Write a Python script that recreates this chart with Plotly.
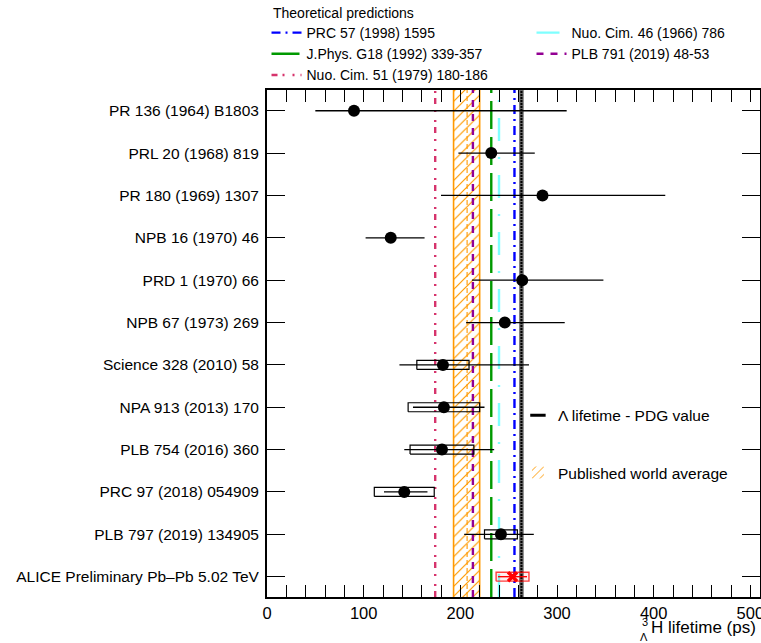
import plotly.graph_objects as go

# Measurements, listed top to bottom
labels = [
    "PR 136 (1964) B1803",
    "PRL 20 (1968) 819",
    "PR 180 (1969) 1307",
    "NPB 16 (1970) 46",
    "PRD 1 (1970) 66",
    "NPB 67 (1973) 269",
    "Science 328 (2010) 58",
    "NPA 913 (2013) 170",
    "PLB 754 (2016) 360",
    "PRC 97 (2018) 054909",
    "PLB 797 (2019) 134905",
    "ALICE Preliminary Pb\u2013Pb 5.02 TeV",
]
lifetime = [90, 232, 285, 128, 264, 246, 182, 183, 181, 142, 242, 254]
stat_up = [220, 45, 127, 35, 84, 62, 89, 42, 54, 24, 34, 15]
stat_dn = [40, 34, 105, 26, 52, 40, 45, 32, 39, 21, 38, 15]
syst = [None, None, None, None, None, None, 27, 37, 33, 31, 17, 17]

# Theoretical predictions
theory_names = [
    "PRC 57 (1998) 1595",
    "Nuo. Cim. 46 (1966) 786",
    "J.Phys. G18 (1992) 339-357",
    "PLB 791 (2019) 48-53",
    "Nuo. Cim. 51 (1979) 180-186",
]
theory_values = [256, 240, 232, 213, 174]
theory_colors = ["#0000ff", "#7fffff", "#009900", "#930093", "#d6336c"]
theory_dash = ["9px,5px,2px,5px", "23px,16px,2px,16px", "28px,8px",
               "7px,7px", "6px,5px,2px,8px,2px,6px"]

# Published world average and the Lambda lifetime
wa_value, wa_up, wa_dn = 207, 13, 14
pdg_lambda = 263.2

FONT = "Liberation Sans, Arial, Helvetica, sans-serif"
ORANGE = "#ff9900"

n = len(labels)
rows = [n - 1 - i for i in range(n)]
is_alice = [i == n - 1 for i in range(n)]

fig = go.Figure()

# World-average band (hatched), drawn on the hidden [0,1] axis
fig.add_trace(go.Bar(
    x=[(wa_value - wa_dn + wa_value + wa_up) / 2], y=[1], base=[0],
    width=[wa_up + wa_dn], yaxis="y",
    marker=dict(color="rgba(0,0,0,0)", line=dict(width=0),
                pattern=dict(shape="/", fgcolor=ORANGE, fgopacity=1,
                             bgcolor="rgba(0,0,0,0)",
                             size=7, solidity=0.17, fillmode="overlay")),
    name="Published world average", legend="legend2", legendgroup="wa",
    legendrank=2, hoverinfo="skip",
))
for xv in (wa_value - wa_dn, wa_value + wa_up):
    fig.add_trace(go.Scatter(x=[xv, xv], y=[0, 1], yaxis="y", mode="lines",
                             line=dict(color=ORANGE, width=1.6),
                             showlegend=False, hoverinfo="skip"))
fig.add_trace(go.Scatter(x=[wa_value, wa_value], y=[0, 1], yaxis="y", mode="lines",
                         line=dict(color=ORANGE, width=1.1, dash="5px,3px"),
                         showlegend=False, hoverinfo="skip"))

# Theoretical prediction lines
for name, val, col, dsh in zip(theory_names, theory_values, theory_colors, theory_dash):
    fig.add_trace(go.Scatter(
        x=[val, val], y=[0, 1], yaxis="y", mode="lines",
        line=dict(color=col, width=2.4, dash=dsh),
        name=name, legend="legend", hoverinfo="skip",
    ))

# PDG Lambda lifetime line
fig.add_trace(go.Scatter(x=[pdg_lambda, pdg_lambda], y=[0, 1], yaxis="y", mode="lines",
                         line=dict(color="#666666", width=4.5),
                         showlegend=False, hoverinfo="skip"))
fig.add_trace(go.Scatter(x=[pdg_lambda, pdg_lambda], y=[0, 1], yaxis="y", mode="lines",
                         line=dict(color="black", width=2, dash="2px,1px"),
                         showlegend=False, hoverinfo="skip"))
fig.add_trace(go.Scatter(x=[None], y=[None], yaxis="y", mode="markers",
                         marker=dict(symbol="line-ew", size=11, color="black",
                                     line=dict(color="black", width=3)),
                         name="\u039b lifetime - PDG value", legend="legend2",
                         legendgroup="pdg", legendrank=1))

# Systematic-uncertainty boxes
BOX_H = 0.106
def box_path(idx_list):
    xs, ys = [], []
    for i in idx_list:
        lo, hi, r = lifetime[i] - syst[i], lifetime[i] + syst[i], rows[i]
        xs += [lo, hi, hi, lo, lo, None]
        ys += [r - BOX_H, r - BOX_H, r + BOX_H, r + BOX_H, r - BOX_H, None]
    return xs, ys

bx, by = box_path([i for i in range(n) if syst[i] is not None and not is_alice[i]])
fig.add_trace(go.Scatter(x=bx, y=by, yaxis="y2", mode="lines",
                         line=dict(color="black", width=1.2),
                         showlegend=False, hoverinfo="skip"))
ax_, ay_ = box_path([i for i in range(n) if is_alice[i]])
fig.add_trace(go.Scatter(x=ax_, y=ay_, yaxis="y2", mode="lines", fill="toself",
                         fillcolor="rgba(255,0,0,0.07)",
                         line=dict(color="rgba(255,0,0,0.75)", width=1.4),
                         showlegend=False, hoverinfo="skip"))

# Measurements with statistical errors
sel = [i for i in range(n) if not is_alice[i]]
fig.add_trace(go.Scatter(
    x=[lifetime[i] for i in sel], y=[rows[i] for i in sel], yaxis="y2",
    mode="markers",
    marker=dict(symbol="circle", size=12, color="black"),
    error_x=dict(type="data", symmetric=False,
                 array=[stat_up[i] for i in sel], arrayminus=[stat_dn[i] for i in sel],
                 color="black", thickness=1.3, width=0),
    showlegend=False,
))
sel = [i for i in range(n) if is_alice[i]]
fig.add_trace(go.Scatter(
    x=[lifetime[i] for i in sel], y=[rows[i] for i in sel], yaxis="y2",
    mode="markers",
    marker=dict(symbol="x-thin", size=9, color="red", line=dict(color="red", width=3.5)),
    error_x=dict(type="data", symmetric=False,
                 array=[stat_up[i] for i in sel], arrayminus=[stat_dn[i] for i in sel],
                 color="red", thickness=1.4, width=0),
    showlegend=False,
))

fig.update_layout(
    width=761, height=643,
    margin=dict(l=267, r=1, t=90, b=46, autoexpand=False),
    paper_bgcolor="white", plot_bgcolor="white",
    font=dict(family=FONT, color="black", size=15.5),
    showlegend=True,
    bargap=0,
    xaxis=dict(
        range=[0, 510], tick0=0, dtick=100,
        ticks="inside", ticklen=12, tickwidth=1, tickcolor="black",
        minor=dict(dtick=20, ticks="inside", ticklen=6, tickcolor="black", showgrid=False),
        showline=True, linewidth=2, linecolor="black", mirror="allticks",
        showgrid=False, zeroline=False, ticklabeloverflow="allow",
        tickfont=dict(size=16.5, family=FONT, color="black"),
    ),
    yaxis=dict(range=[0, 1], visible=False, fixedrange=True),
    yaxis2=dict(
        overlaying="y", side="left",
        range=[-0.48, 11.49],
        tickvals=rows, ticktext=labels,
        ticks="inside", ticklen=18, tickwidth=1, tickcolor="black",
        showline=True, linewidth=2, linecolor="black", mirror="allticks",
        showgrid=False, zeroline=False, ticklabelstandoff=3,
        tickfont=dict(size=15.5, family=FONT, color="black"),
    ),
    legend=dict(
        orientation="h", x=-0.001, xanchor="left", y=1.144, yanchor="top",
        entrywidth=220, entrywidthmode="pixels", traceorder="normal",
        font=dict(size=14, family=FONT), bgcolor="rgba(0,0,0,0)", borderwidth=0,
    ),
    legend2=dict(
        orientation="v", x=0.509, xanchor="left", y=0.391, yanchor="top",
        font=dict(size=15.5, family=FONT), bgcolor="rgba(0,0,0,0)", borderwidth=0,
        tracegroupgap=34, traceorder="grouped",
    ),
    annotations=[
        dict(text="Theoretical predictions", xref="paper", yref="paper",
             x=(271 - 267) / 493, y=1 + (90 - 13) / 507, xanchor="left", yanchor="middle",
             showarrow=False, font=dict(size=14, family=FONT)),
        dict(text="H lifetime (ps)", xref="paper", yref="paper", x=1, y=-0.06,
             xanchor="right", yanchor="middle", xshift=-2, showarrow=False,
             font=dict(size=17, family=FONT)),
        dict(text="3", xref="paper", yref="paper", x=(649 - 267) / 493, y=-0.049,
             xanchor="right", yanchor="middle", showarrow=False, borderpad=0,
             font=dict(size=11, family=FONT)),
        dict(text="\u039b", xref="paper", yref="paper", x=(649 - 267) / 493, y=-0.079,
             xanchor="right", yanchor="middle", showarrow=False, borderpad=0,
             font=dict(size=11, family=FONT)),
    ],
)

fig.write_html("out.html")
